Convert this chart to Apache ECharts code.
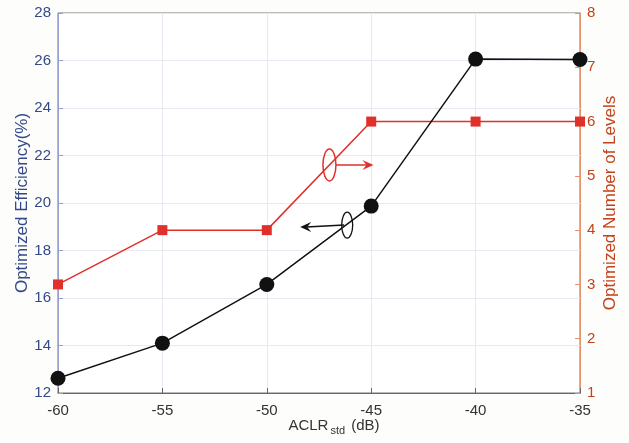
<!DOCTYPE html>
<html><head><meta charset="utf-8">
<script src="https://cdn.jsdelivr.net/npm/echarts@6/dist/echarts.min.js"></script>
<style>html,body{margin:0;padding:0;background:#fdfdfb;}#c{width:629px;height:443px;}</style>
</head><body><div id="c"></div>
<script>
var aclr = [-60, -55, -50, -45, -40, -35];
var efficiency = [12.62, 14.1, 16.57, 19.87, 26.06, 26.04];
var levels = [3, 4, 4, 6, 6, 6];
var xTicks = [-60, -55, -50, -45, -40, -35];

var chart = echarts.init(document.getElementById('c'));
var font = 'Liberation Sans, Arial, sans-serif';
var blue = '#34498a', red = '#c2431b';
chart.setOption({
  backgroundColor: '#fdfdfb',
  animation: false,
  grid: {left: 58, right: 49, top: 13, bottom: 50, outerBoundsMode: 'none', containLabel: false, show: true, borderColor: '#777', borderWidth: 1, backgroundColor: '#fff'},
  xAxis: {
    type: 'value', min: -60, max: -35, interval: 5,
    axisLine: {lineStyle: {color: '#666'}},
    axisTick: {inside: true, length: 5, lineStyle: {color: '#666'}},
    axisLabel: {color: '#333', fontSize: 15, fontFamily: font, margin: 10},
    splitLine: {show: true, lineStyle: {color: '#e6e9f0'}},
    name: '{a|ACLR}{s|std}{a| (dB)}', nameLocation: 'middle', nameGap: 22, nameMoveOverlap: false,
    nameTextStyle: {padding: [0, 0, 0, 30], rich: {a: {fontSize: 15, color: '#333', fontFamily: font}, s: {fontSize: 11, color: '#333', fontFamily: font, verticalAlign: 'bottom', padding: [10,2,0,2]}}}
  },
  yAxis: [{
    type: 'value', min: 12, max: 28, interval: 2, position: 'left',
    axisLine: {show: true, lineStyle: {color: '#97a0cc'}},
    axisTick: {show: true, inside: true, length: 5, lineStyle: {color: '#97a0cc'}},
    axisLabel: {color: blue, fontSize: 15, fontFamily: font, margin: 7},
    splitLine: {show: true, lineStyle: {color: '#e6e9f0'}},
    name: 'Optimized Efficiency(%)', nameLocation: 'middle', nameGap: 27, nameMoveOverlap: false,
    nameTextStyle: {color: blue, fontSize: 17, fontFamily: font}
  }, {
    type: 'value', min: 1, max: 8, interval: 1, position: 'right',
    axisLine: {show: true, lineStyle: {color: '#e0936c'}},
    axisTick: {show: true, inside: true, length: 5, lineStyle: {color: '#e0936c'}},
    axisLabel: {color: red, fontSize: 15, fontFamily: font, margin: 7},
    splitLine: {show: false},
    name: 'Optimized Number of Levels', nameLocation: 'middle', nameGap: 22, nameMoveOverlap: false,
    nameRotate: 90,
    nameTextStyle: {color: red, fontSize: 17, fontFamily: font}
  }],
  series: [{
    type: 'line', yAxisIndex: 1,
    data: aclr.map(function(x, i){ return [x, levels[i]]; }),
    symbol: 'rect', symbolSize: 10,
    lineStyle: {color: '#e0302a', width: 1.5},
    itemStyle: {color: '#e0302a'}, z: 3
  }, {
    type: 'line', yAxisIndex: 0,
    data: aclr.map(function(x, i){ return [x, efficiency[i]]; }),
    symbol: 'circle', symbolSize: 15,
    lineStyle: {color: '#111', width: 1.5},
    itemStyle: {color: '#111'}, z: 4
  }]
});

var pr = chart.convertToPixel({xAxisIndex: 0, yAxisIndex: 1}, [-47.0, 5.2]);
var pb = chart.convertToPixel({xAxisIndex: 0, yAxisIndex: 0}, [-46.15, 19.07]);
function arrow(x1, y1, x2, y2, color) {
  var dir = x2 > x1 ? 1 : -1;
  return [{
    type: 'line', shape: {x1: x1, y1: y1, x2: x2 - dir * 6, y2: y2}, style: {stroke: color, lineWidth: 1.5}, z: 10
  }, {
    type: 'polygon', shape: {points: [[x2, y2], [x2 - dir * 11, y2 - 5], [x2 - dir * 7, y2], [x2 - dir * 11, y2 + 5]]}, style: {fill: color}, z: 10
  }];
}
var g = [
  {type: 'ellipse', shape: {cx: pr[0], cy: pr[1], rx: 6.5, ry: 16}, style: {fill: 'none', stroke: '#e0302a', lineWidth: 1.5}, z: 10},
  {type: 'ellipse', shape: {cx: pb[0], cy: pb[1], rx: 5.5, ry: 13}, style: {fill: 'none', stroke: '#111', lineWidth: 1.3}, z: 10}
];
g = g.concat(arrow(pr[0] + 6.5, pr[1], pr[0] + 44, pr[1], '#e0302a'));
g = g.concat(arrow(pb[0] - 3, pb[1], pb[0] - 47, pb[1] + 2, '#111'));
chart.setOption({graphic: g});
</script></body></html>
